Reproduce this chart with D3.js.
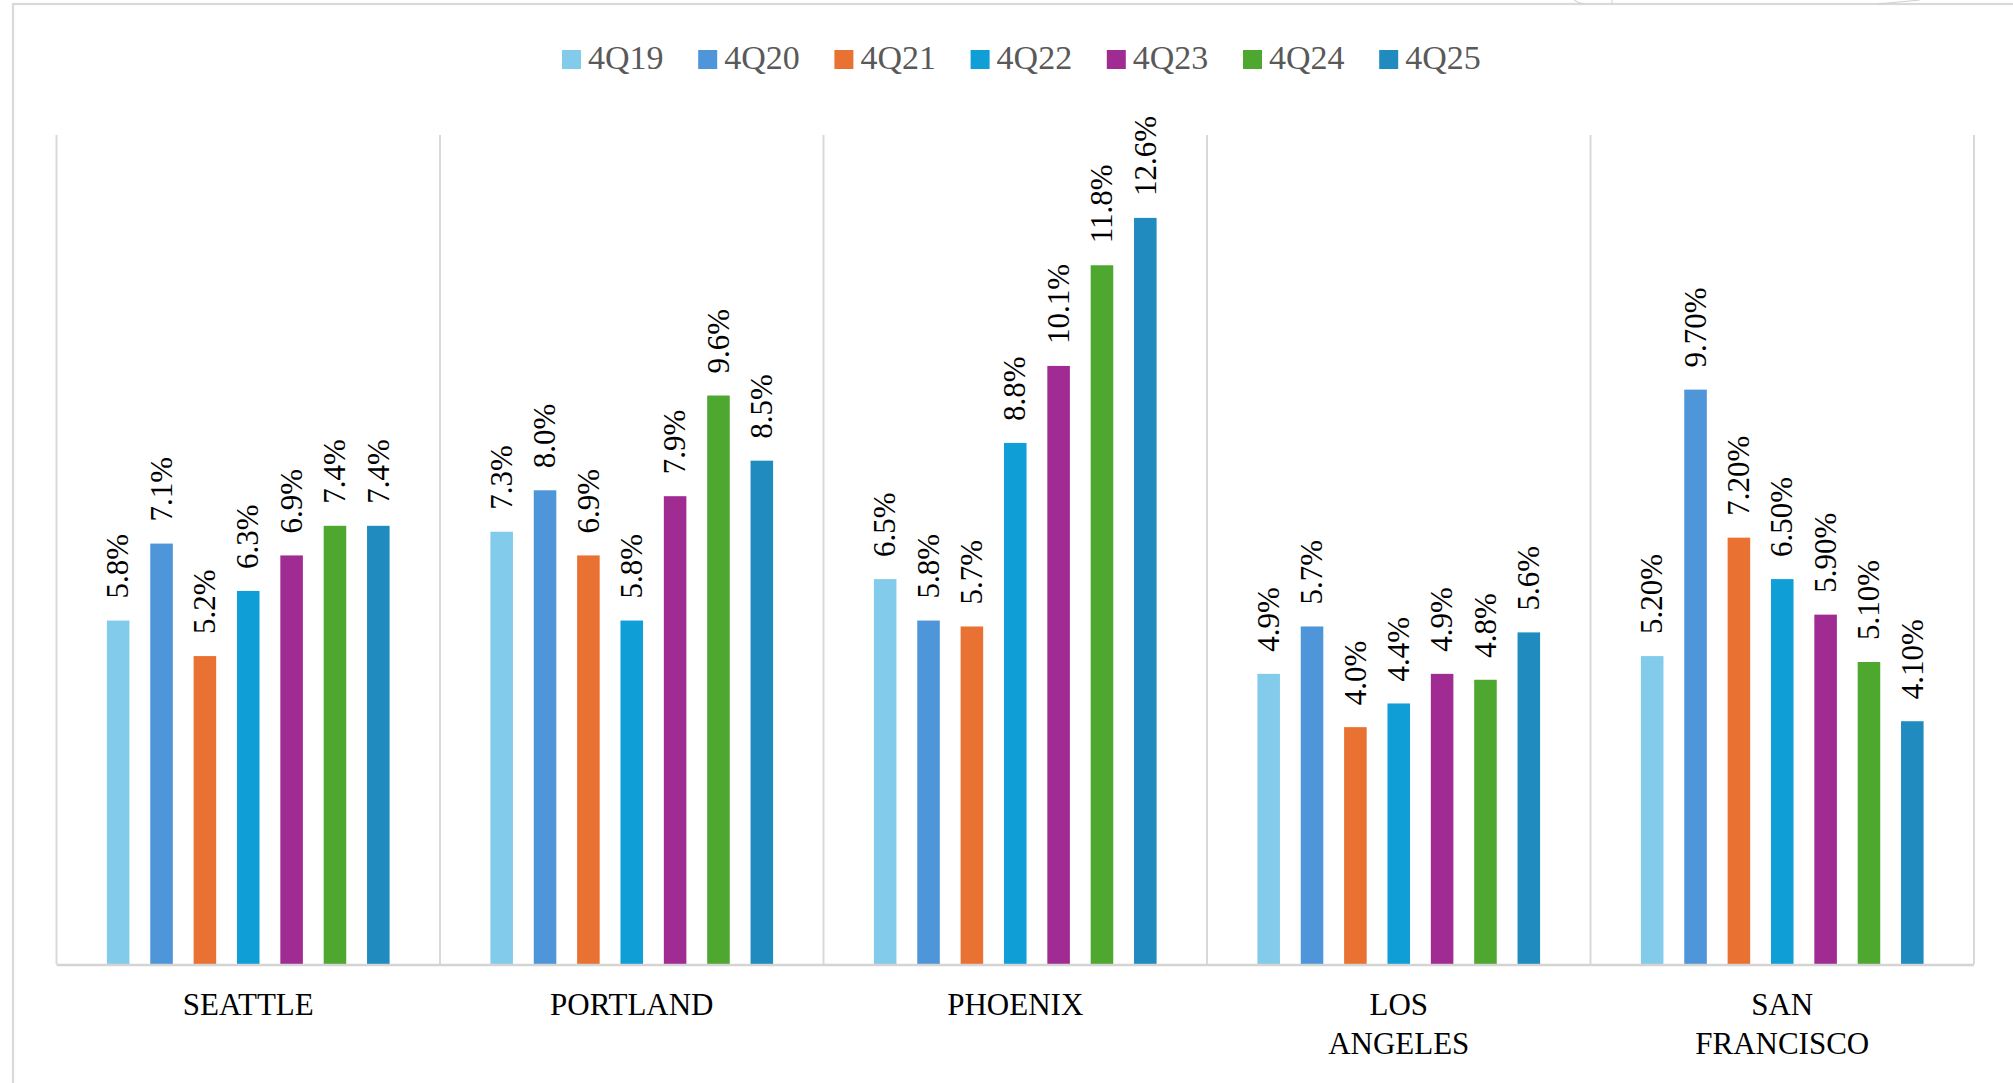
<!DOCTYPE html>
<html>
<head>
<meta charset="utf-8">
<script src="https://cdn.jsdelivr.net/npm/d3@7"></script>
<style>
  html, body { margin: 0; padding: 0; background: #fff; }
  svg { display: block; }
</style>
</head>
<body>
<svg id="chart" width="2013" height="1083"></svg>
<script>
// Vacancy rate by market, fourth quarter of each year
const cities = ["SEATTLE", "PORTLAND", "PHOENIX", "LOS ANGELES", "SAN FRANCISCO"];
const cityLines = [["SEATTLE"], ["PORTLAND"], ["PHOENIX"], ["LOS", "ANGELES"], ["SAN", "FRANCISCO"]];
const labelDecimals = [1, 1, 1, 1, 2];
const series = ["4Q19", "4Q20", "4Q21", "4Q22", "4Q23", "4Q24", "4Q25"];
const colors = ["#83cbeb", "#4e95d9", "#e97132", "#0f9ed5", "#a02b93", "#4ea72e", "#1f8bbf"];

const seattle      = [5.8, 7.1, 5.2, 6.3, 6.9, 7.4, 7.4];
const portland     = [7.3, 8.0, 6.9, 5.8, 7.9, 9.6, 8.5];
const phoenix      = [6.5, 5.8, 5.7, 8.8, 10.1, 11.8, 12.6];
const losAngeles   = [4.9, 5.7, 4.0, 4.4, 4.9, 4.8, 5.6];
const sanFrancisco = [5.2, 9.7, 7.2, 6.5, 5.9, 5.1, 4.1];
const values = [seattle, portland, phoenix, losAngeles, sanFrancisco];

const yMax = 14;
const FONT = "'Liberation Serif', 'Times New Roman', Times, serif";

const svg = d3.select("#chart").attr("font-family", FONT);
const W = 2013, H = 1083;
const plot = { left: 56.5, right: 1974, top: 135, bottom: 964 };
const gridColor = "#d9d9d9";

// Outer chart frame (extends past the page edges)
svg.append("rect")
  .attr("x", 13).attr("y", 4)
  .attr("width", W + 20).attr("height", H + 20)
  .attr("fill", "none").attr("stroke", gridColor).attr("stroke-width", 2.2);

// Faint fragments of shapes above the frame
svg.append("path")
  .attr("d", "M1574,0 Q1578,3 1584,4 M1612,0 L1612,4 M1878,4 Q1898,2 1920,0")
  .attr("fill", "none").attr("stroke", "#cfcfcf").attr("stroke-width", 1);

const x0 = d3.scaleBand().domain(cities).range([plot.left, plot.right]).padding(0);
const bw = x0.bandwidth();
const x1 = d3.scaleBand().domain(series).range([40, bw - 40])
  .paddingInner(0.48).paddingOuter(0.24);
const y = d3.scaleLinear().domain([0, yMax]).range([plot.bottom, plot.top]);

// Vertical separators at category boundaries
const bounds = cities.map(c => x0(c)).concat([plot.right]);
svg.append("g").selectAll("line").data(bounds).join("line")
  .attr("x1", d => d).attr("x2", d => d)
  .attr("y1", y(yMax)).attr("y2", y(0))
  .attr("stroke", gridColor).attr("stroke-width", 2);

// Bars and value labels
const groups = svg.append("g").selectAll("g").data(cities).join("g")
  .attr("transform", c => `translate(${x0(c)},0)`);

groups.each(function(city, ci) {
  const g = d3.select(this);
  const fmt = d3.format(`.${labelDecimals[ci]}f`);
  const rows = series.map((s, si) => ({ s, si, v: values[ci][si] }));

  g.selectAll("rect").data(rows).join("rect")
    .attr("x", d => x1(d.s))
    .attr("width", x1.bandwidth())
    .attr("y", d => y(d.v))
    .attr("height", d => y(0) - y(d.v))
    .attr("fill", d => colors[d.si]);

  g.selectAll("text").data(rows).join("text")
    .attr("transform", d => `translate(${x1(d.s) + x1.bandwidth() / 2},${y(d.v) - 22}) rotate(-90)`)
    .attr("dy", "0.33em")
    .attr("font-family", FONT)
    .attr("font-size", 31)
    .attr("fill", "#000")
    .text(d => fmt(d.v) + "%");
});

// Baseline
svg.append("line")
  .attr("x1", plot.left).attr("x2", plot.right)
  .attr("y1", y(0) + 1).attr("y2", y(0) + 1)
  .attr("stroke", "#d4d4d4").attr("stroke-width", 2.5);

// Category labels
svg.append("g").selectAll("text").data(cities).join("text")
  .attr("x", c => x0(c) + bw / 2)
  .attr("y", 1015)
  .attr("text-anchor", "middle")
  .attr("font-family", FONT)
  .attr("font-size", 31)
  .attr("fill", "#000")
  .each(function(c, i) {
    d3.select(this).selectAll("tspan").data(cityLines[i]).join("tspan")
      .attr("x", x0(c) + bw / 2)
      .attr("dy", (d, k) => k === 0 ? 0 : 39)
      .text(d => d);
  });

// Legend
const lx = d3.scaleBand().domain(series).range([562, 562 + 7 * 136.2]);
const legend = svg.append("g").selectAll("g").data(series).join("g")
  .attr("transform", s => `translate(${lx(s)},0)`);
legend.append("rect")
  .attr("x", 0).attr("y", 50).attr("width", 19).attr("height", 19)
  .attr("fill", (s, i) => colors[i]);
legend.append("text")
  .attr("x", 26).attr("y", 69)
  .attr("font-family", FONT)
  .attr("font-size", 34)
  .attr("fill", "#595959")
  .text(s => s);
</script>
</body>
</html>
